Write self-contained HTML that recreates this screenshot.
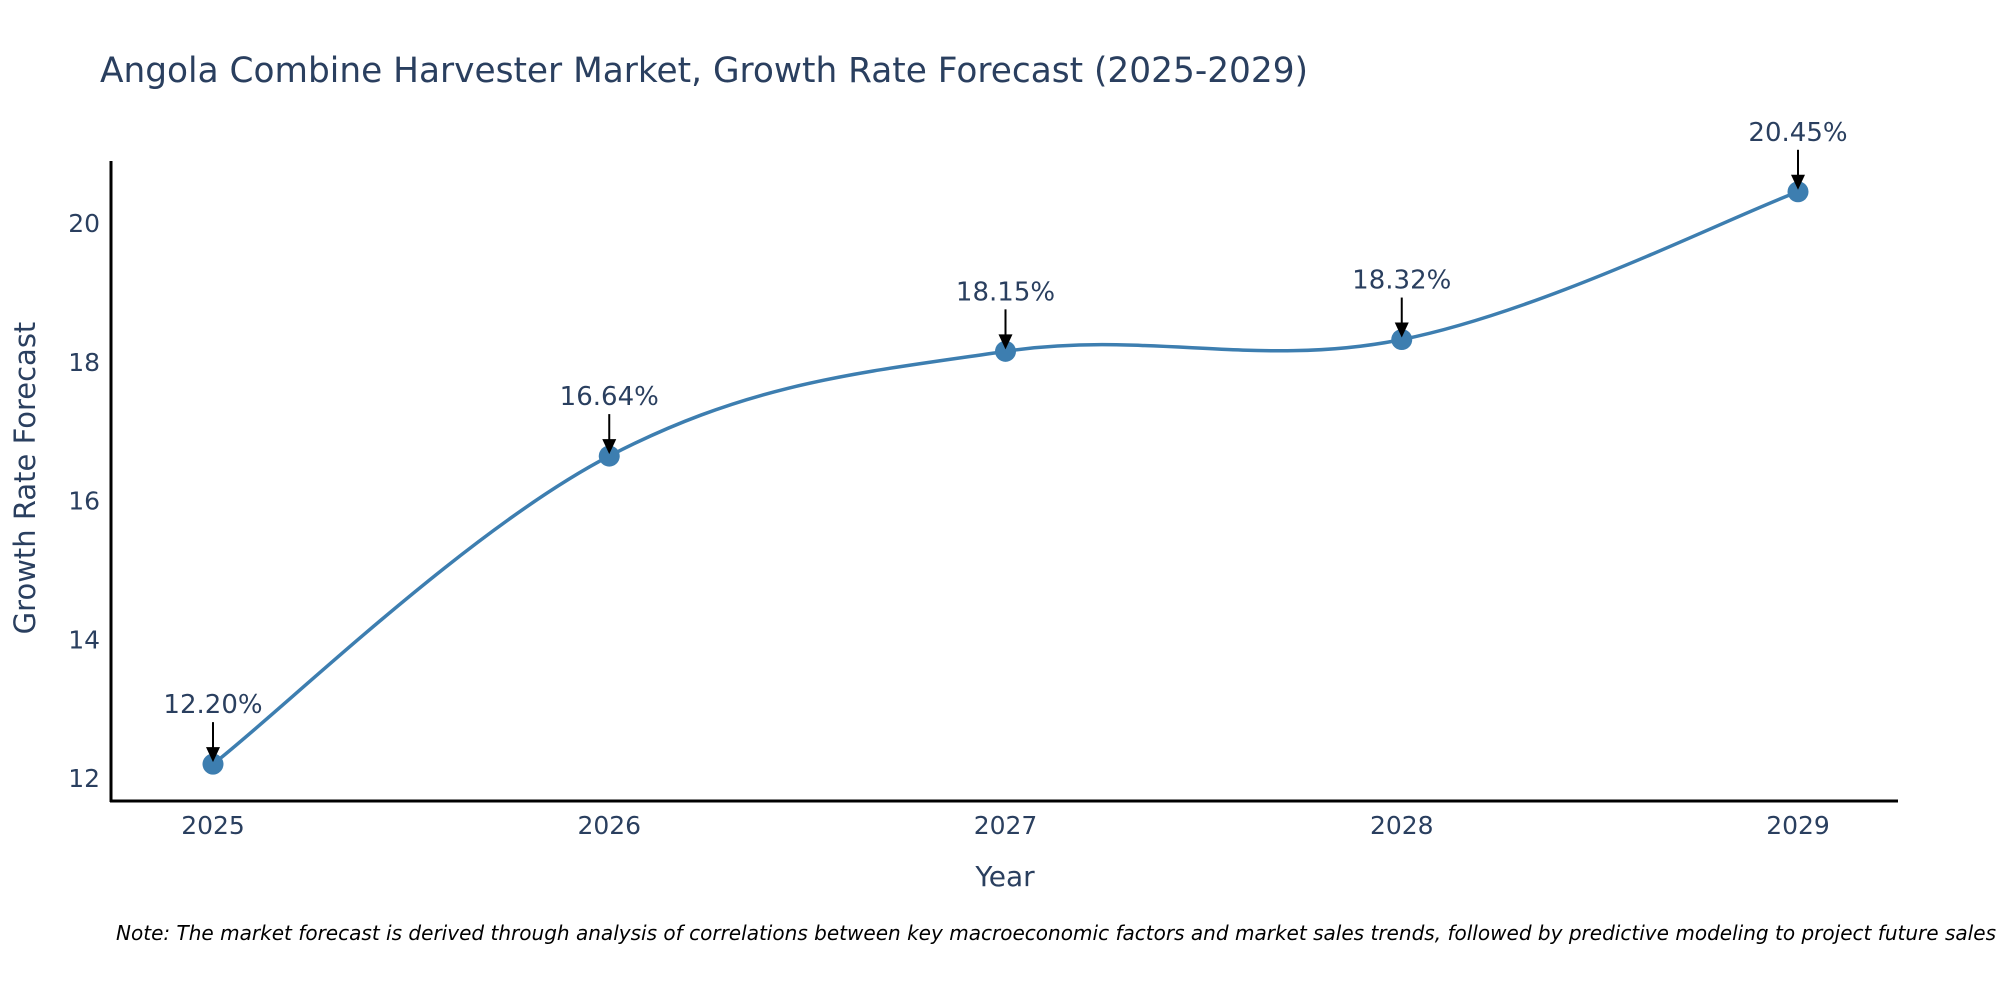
<!DOCTYPE html>
<html><head><meta charset="utf-8"><style>
body{margin:0;background:#fff;}
svg{display:block;font-family:"DejaVu Sans","Liberation Sans",sans-serif;}
</style></head><body>
<svg id="chart" width="2000" height="1000" viewBox="0 0 2000 1000">
<text x="100" y="82" font-size="35" fill="#2a3f5f" textLength="1208" lengthAdjust="spacingAndGlyphs">Angola Combine Harvester Market, Growth Rate Forecast (2025-2029)</text>
<g id="yticks"></g>
<g id="xticks"></g>
<line x1="111" y1="161" x2="111" y2="802" stroke="#000" stroke-width="3"/>
<line x1="110" y1="801" x2="1898" y2="801" stroke="#000" stroke-width="3"/>
<path id="line" fill="none" stroke="#3d7eb0" stroke-width="3.5"/>
<g id="points"></g>
<g id="annots"></g>
<text x="1005" y="886" font-size="28" fill="#2a3f5f" text-anchor="middle">Year</text>
<text transform="translate(35,478) rotate(-90)" font-size="29" fill="#2a3f5f" text-anchor="middle">Growth Rate Forecast</text>
<text x="116" y="940" font-size="20" font-style="italic" fill="#000" textLength="1880" lengthAdjust="spacingAndGlyphs">Note: The market forecast is derived through analysis of correlations between key macroeconomic factors and market sales trends, followed by predictive modeling to project future sales</text>
</svg>
<script>
const years = [2025, 2026, 2027, 2028, 2029];
const values = [12.20, 16.64, 18.15, 18.32, 20.45];
const yTicks = [12, 14, 16, 18, 20];
const NS = 'http://www.w3.org/2000/svg';
function xs(i){ return 213 + i * (1798 - 213) / 4; }
function ys(v){ return 778 - (v - 12) * (778 - 223) / 8; }
function mk(tag, attrs, parent){
  const e = document.createElementNS(NS, tag);
  for (const k in attrs) e.setAttribute(k, attrs[k]);
  parent.appendChild(e); return e;
}
const yg = document.getElementById('yticks');
yTicks.forEach(t => {
  const e = mk('text', {x: 100, y: ys(t) + 9, 'font-size': 25, fill: '#2a3f5f', 'text-anchor': 'end'}, yg);
  
  
  e.textContent = t;
});
const xg = document.getElementById('xticks');
years.forEach((y, i) => {
  const e = mk('text', {x: xs(i), y: 834, 'font-size': 25, fill: '#2a3f5f', 'text-anchor': 'middle'}, xg);
  
  
  e.textContent = y;
});
const P = values.map((v, i) => [xs(i), ys(v)]);
let d = 'M' + P[0][0] + ',' + P[0][1];
const t = 0.18;
for (let i = 0; i < P.length - 1; i++) {
  const p0 = P[Math.max(0, i - 1)], p1 = P[i], p2 = P[i + 1], p3 = P[Math.min(P.length - 1, i + 2)];
  const c1 = [p1[0] + (p2[0] - p0[0]) * t, p1[1] + (p2[1] - p0[1]) * t];
  const c2 = [p2[0] - (p3[0] - p1[0]) * t, p2[1] - (p3[1] - p1[1]) * t];
  d += ' C' + c1 + ' ' + c2 + ' ' + p2;
}
document.getElementById('line').setAttribute('d', d);
const pg = document.getElementById('points'), ag = document.getElementById('annots');
values.forEach((v, i) => {
  const x = xs(i), y = ys(v);
  const c = mk('circle', {cx: x, cy: y, r: 10.5, fill: '#3d7eb0'}, pg);
  
  
  const l = mk('line', {x1: x, y1: y - 42, x2: x, y2: y - 14, stroke: '#000', 'stroke-width': 2}, ag);
  
  
  const a = mk('polygon', {points: (x-7)+','+(y-17)+' '+(x+7)+','+(y-17)+' '+x+','+(y-2), fill: '#000'}, ag);
  
  
  const tx = mk('text', {x: x, y: y - 51, 'font-size': 26, fill: '#2a3f5f', 'text-anchor': 'middle'}, ag);
  
  
  tx.textContent = v.toFixed(2) + '%';
});
</script>
</body></html>
